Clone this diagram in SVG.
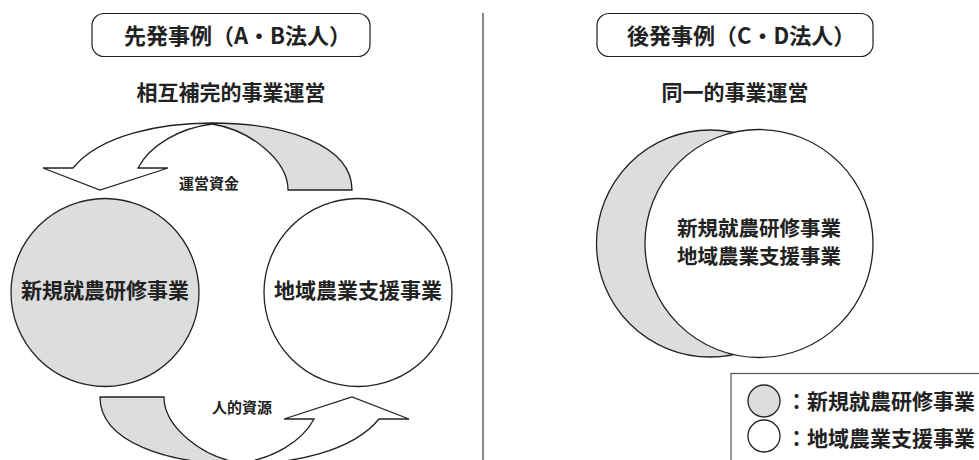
<svg xmlns="http://www.w3.org/2000/svg" width="979" height="460" viewBox="0 0 979 460">
<style>
.t{font-family:"Noto Sans CJK JP","Noto Sans CJK SC",sans-serif;fill:#222;font-weight:bold}
.h{font-size:22px}
.s{font-size:21px;text-anchor:middle;dominant-baseline:central}
.v{font-size:20.5px;text-anchor:middle;dominant-baseline:central}
.l{font-size:15px;text-anchor:middle;dominant-baseline:central}
.box{fill:#fff;stroke:#222;stroke-width:1.2}
.g{fill:#dcdddd;stroke:#222;stroke-width:1.3}
.w{fill:#fff;stroke:#222;stroke-width:1.3}
</style>
<defs>
<g id="arrow">
<path class="w" d="M 212,123 C 160,123 100,135 73,168 L 43,168 L 100,190 L 168,168 L 138,168 C 150,145 180,128 212,124 Z"/>
<path class="g" d="M 212,123 C 285,123 352,145 352,190 L 288,190 C 288,160 250,130 212,124 Z"/>
</g>
</defs>
<rect width="979" height="460" fill="#fff"/>
<line x1="483" y1="13" x2="483" y2="460" stroke="#888" stroke-width="2"/>

<g id="title-left">
<rect class="box" x="92" y="13.5" width="278" height="43" rx="12"/>
<text class="t h" x="124" y="34" dominant-baseline="central">先発事例（A・B法人）</text>
</g>
<g id="subtitle-left"><text class="t s" x="231" y="91">相互補完的事業運営</text></g>

<g id="connectors">
<use href="#arrow"/>
<use href="#arrow" transform="rotate(180 226 293.5)"/>
<text class="t l" x="209" y="182">運営資金</text>
<text class="t l" x="242" y="406">人的資源</text>
</g>

<g id="node-training">
<circle class="g" cx="105" cy="292.5" r="94"/>
<text class="t s" x="105" y="289">新規就農研修事業</text>
</g>
<g id="node-support">
<circle class="w" cx="358" cy="292.5" r="94"/>
<text class="t s" x="358" y="289">地域農業支援事業</text>
</g>

<g id="title-right">
<rect class="box" x="597" y="13.5" width="276" height="43" rx="12"/>
<text class="t h" x="627" y="34" dominant-baseline="central">後発事例（C・D法人）</text>
</g>
<g id="subtitle-right"><text class="t s" x="735" y="91">同一的事業運営</text></g>

<g id="node-combined">
<circle class="g" cx="710" cy="243.5" r="113.5"/>
<circle class="w" cx="759" cy="243.5" r="114"/>
<text class="t v" x="759" y="227">新規就農研修事業</text>
<text class="t v" x="759" y="255">地域農業支援事業</text>
</g>

<g id="legend">
<rect x="731" y="373.5" width="260" height="100" fill="#fff" stroke="#555" stroke-width="1.2"/>
<circle class="g" cx="764" cy="401" r="16"/>
<circle class="w" cx="764" cy="436" r="16"/>
<text class="t" x="786" y="400" font-size="21" dominant-baseline="central">：新規就農研修事業</text>
<text class="t" x="786" y="437" font-size="21" dominant-baseline="central">：地域農業支援事業</text>
</g>
</svg>
